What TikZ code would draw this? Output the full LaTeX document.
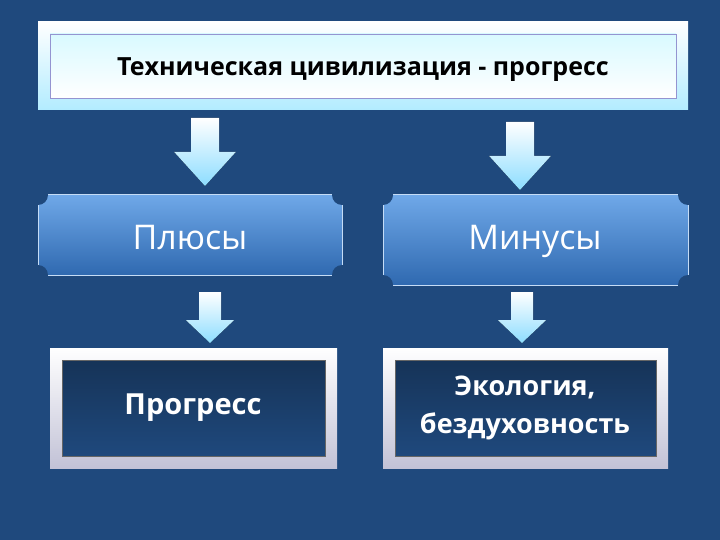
\documentclass[tikz,border=0pt]{standalone}
\usepackage{fontspec}
\setmainfont{Open Sans}
\begin{document}
\begin{tikzpicture}[x=1pt,y=-1pt,
  lbl/.style={font=\fontsize{22}{26}\selectfont, align=center}]
\definecolor{bg}{HTML}{1F497D}
\definecolor{midtop}{HTML}{6FA8E8}
\definecolor{midbot}{HTML}{2F69B0}
\fill[bg] (0,0) rectangle (720,540);
\useasboundingbox (0,0) rectangle (720,540);
% top box
\fill[top color=white, bottom color=blue!25!cyan!30] (38,22) rectangle (688,110);
\fill[top color=blue!15!cyan!15, bottom color=white] (50,34) rectangle (676,98);
\draw[blue!40!gray!60, line width=0.6] (50,34) rectangle (676,98);
\node[align=center, font=\fontsize{25}{30}\selectfont\bfseries] (top) at (363,70) {Техническая цивилизация - прогресс};
% block arrows
\newcommand{\barrow}[5]{% x, ytop, ymid, ybot, halfshaft
  \fill[top color=white, bottom color=blue!30!cyan!45] (#1-#5,#2) -- (#1+#5,#2) -- (#1+#5,#3) -- (#1+2.2*#5,#3) -- (#1,#4) -- (#1-2.2*#5,#3) -- (#1-#5,#3) -- cycle;}
\barrow{205}{118}{152}{186}{14}
\barrow{520}{122}{156}{190}{14}
\barrow{210}{292}{320}{343}{11}
\barrow{522}{292}{320}{343}{11}
% middle boxes: rectangle with concave corners
\newcommand{\notchbox}[4]{% x1 y1 x2 y2
  \fill[top color=midtop, bottom color=midbot] (#1,#2) rectangle (#3,#4);
  \draw[white!60!midtop, line width=1] (#1,#2) rectangle (#3,#4);
  \fill[bg] (#1,#2) circle[radius=10];
  \fill[bg] (#3,#2) circle[radius=10];
  \fill[bg] (#1,#4) circle[radius=10];
  \fill[bg] (#3,#4) circle[radius=10];}
\notchbox{38}{195}{342}{275}
\notchbox{383}{195}{688}{285}
\node[text=white, font=\fontsize{34}{40}\selectfont] (plus) at (190,238) {Плюсы};
\node[text=white, font=\fontsize{34}{40}\selectfont] (minus) at (535,241) {Минусы};
% bottom boxes
\newcommand{\bevelbox}[4]{%
  \fill[top color=white, bottom color=blue!20!gray!40] (#1,#2) rectangle (#3,#4);
  \fill[top color=bg!70!black, bottom color=bg] (#1+12,#2+12) rectangle (#3-12,#4-12);
  \draw[black!60, line width=0.8] (#1+12,#2+12) rectangle (#3-12,#4-12);}
\bevelbox{50}{348}{337}{468}
\bevelbox{383}{348}{668}{468}
\node[align=center, text=white, font=\fontsize{29}{36}\selectfont\bfseries] (prog) at (193,408) {Прогресс};
\node[align=center, text=white, font=\fontsize{27}{38}\selectfont\bfseries] (eco) at (525,408) {Экология,\\бездуховность};
\end{tikzpicture}
\end{document}
